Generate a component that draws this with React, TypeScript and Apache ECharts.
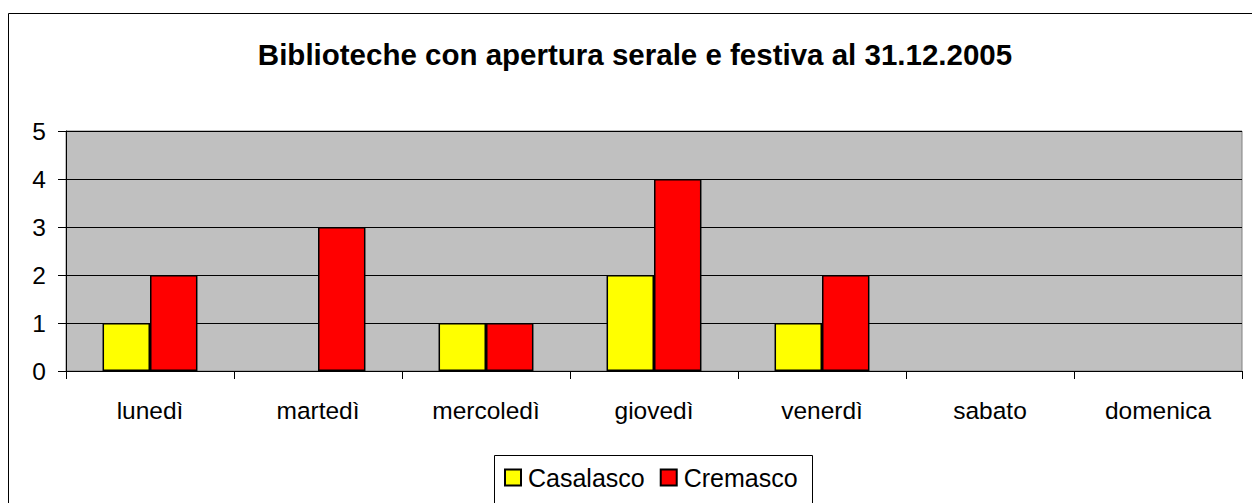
import React, { useEffect, useRef } from "react";
import * as echarts from "echarts";

const titleText = "Biblioteche con apertura serale e festiva al 31.12.2005";
const categories = ["lunedì", "martedì", "mercoledì", "giovedì", "venerdì", "sabato", "domenica"];
const seriesNames = ["Casalasco", "Cremasco"];
const casalasco = [1, 0, 1, 2, 1, 0, 0];
const cremasco = [2, 3, 1, 4, 2, 0, 0];
const seriesColors = ["#FFFF00", "#FF0000"];

const FONT = "Liberation Sans, Arial, sans-serif";

function toItems(values: number[]) {
  return values.map((v) => (v === 0 ? { value: v, itemStyle: { borderWidth: 0 } } : v));
}

export default function App() {
  const ref = useRef<HTMLDivElement>(null);
  useEffect(() => {
    if (!ref.current) return;
    const chart = echarts.init(ref.current, null, { renderer: "svg" });
    chart.setOption({
      animation: false,
      backgroundColor: "#FFFFFF",
      textStyle: { fontFamily: FONT },
      title: {
        text: titleText,
        left: 630,
        top: 34,
        textAlign: "center",
        textStyle: { fontFamily: FONT, fontSize: 29.5, fontWeight: "bold", color: "#000" },
      },
      graphic: [
        {
          type: "rect",
          z: -10,
          shape: { x: 8.5, y: 13.5, width: 1300, height: 600 },
          style: { fill: "#FFFFFF", stroke: "#000000", lineWidth: 1 },
        },
        {
          type: "rect",
          z: 1,
          shape: { x: 494.5, y: 455.5, width: 318, height: 80 },
          style: { fill: "#FFFFFF", stroke: "#000000", lineWidth: 1 },
        },
      ],
      legend: {
        data: seriesNames,
        left: 504,
        top: 465,
        itemWidth: 16,
        itemHeight: 16,
        itemGap: 15,
        icon: "rect",
        padding: 0,
        z: 5,
        textStyle: { fontFamily: FONT, fontSize: 25, color: "#000", padding: [0, 0, 0, 2] },
      },
      grid: {
        left: 66,
        top: 131,
        width: 1176,
        height: 240,
        show: true,
        backgroundColor: "#C0C0C0",
        borderColor: "#808080",
        borderWidth: 1,
      },
      xAxis: {
        type: "category",
        data: categories,
        boundaryGap: true,
        axisLine: { lineStyle: { color: "#000", width: 1 } },
        axisTick: { show: true, length: 8, inside: false, alignWithLabel: false, lineStyle: { color: "#000" } },
        axisLabel: { fontFamily: FONT, fontSize: 24.5, color: "#000", margin: 27 },
        splitLine: { show: false },
      },
      yAxis: {
        type: "value",
        min: 0,
        max: 5,
        interval: 1,
        axisLine: { show: true, lineStyle: { color: "#000", width: 1 } },
        axisTick: { show: true, length: 8, lineStyle: { color: "#000" } },
        axisLabel: { fontFamily: FONT, fontSize: 24.5, color: "#000", margin: 20 },
        splitLine: { show: true, lineStyle: { color: "#000", width: 1 } },
      },
      series: [
        {
          name: seriesNames[0],
          type: "bar",
          data: toItems(casalasco),
          barGap: "0%",
          barCategoryGap: "43.5%",
          itemStyle: { color: seriesColors[0], borderColor: "#000", borderWidth: 1.5 },
        },
        {
          name: seriesNames[1],
          type: "bar",
          data: toItems(cremasco),
          barGap: "0%",
          barCategoryGap: "43.5%",
          itemStyle: { color: seriesColors[1], borderColor: "#000", borderWidth: 1.5 },
        },
      ],
    });
    return () => chart.dispose();
  }, []);
  return (
    <div
      ref={ref}
      style={{ position: "fixed", left: 0, top: 0, width: 1252, height: 503 }}
    />
  );
}
